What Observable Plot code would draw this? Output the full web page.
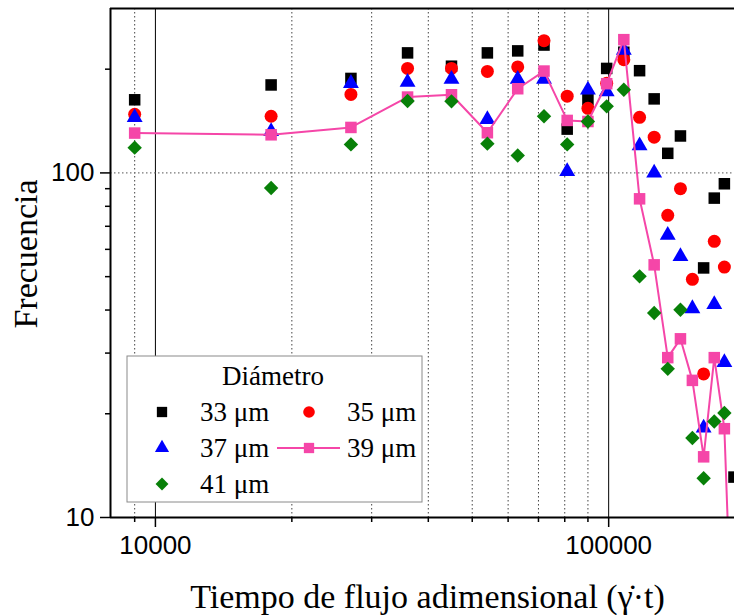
<!DOCTYPE html>
<html>
<head>
<meta charset="utf-8">
<script src="https://cdn.jsdelivr.net/npm/d3@7"></script>
<script src="https://cdn.jsdelivr.net/npm/@observablehq/plot@0.6"></script>
<style>
  html, body { margin: 0; padding: 0; background: white; }
  #chart svg { display: block; }
</style>
</head>
<body>
<div id="chart"></div>
<script>
// Dimensionless flow time (γ̇·t)
const times = [9000, 18000, 27000, 36000, 45000, 54000, 63000, 72000, 81000, 90000, 99000,
               108000, 117000, 126000, 135000, 144000, 153000, 162000, 171000, 180000, 189000];
// Frequency per particle diameter
const d33 = [163, 180, 188, 223, 204, 223, 226, 235, 134, 163, 201, 224, 198, 164, 114, 128, null, 53, 84.5, 93, 13.1];
const d35 = [148, 146, 169, 201, 201, 197, 203, 242, 167, 154, 182, 213, 145, 127, 75.3, 90, 49.1, 26.1, 63.3, 53.3, null];
const d37 = [145, 132, 182, 183.5, 187, 143, 187, 187, 101, 174, 172, 227, 120, 100, 66, 57.2, 40.4, 18.2, 41.5, 28.2, null];
const d39 = [130.5, 129, 135.5, 166, 168.6, 130.8, 175.5, 197.5, 142, 141, 181.5, 243.6, 84.1, 54.1, 29.1, 33, 25, 15, 29.1, 18.1, 3];
const d41 = [118.4, 90.4, 121, 161.6, 161.3, 121.6, 112.4, 146, 121, 141, 156, 174.4, 50.1, 39.2, 27, 40.1, 17, 13, 19, 20.1, null];

const seriesNames = ["33 μm", "35 μm", "37 μm", "39 μm", "41 μm"];
const seriesValues = [d33, d35, d37, d39, d41];
const seriesSymbols = ["square", "circle", "triangle", "square", "diamond2"];
const seriesColors = ["#000000", "#ff0000", "#0000ff", "#f546a8", "#088008"];
const seriesR = [6.5, 6.5, 5.9, 6.5, 6.5];

const xMajor = [10000, 100000];
const xMinor = [9000, 20000, 30000, 40000, 50000, 60000, 70000, 80000, 90000];
const yMajor = [10, 100];
const yMinor = [20, 30, 40, 50, 60, 70, 80, 90, 200];

const xTitle = "Tiempo de flujo adimensional (\u03B3\u0307\u00B7t)";
const yTitle = "Frecuencia";
const legendTitle = "Diámetro";

function rowsFor(i) {
  return times.map((t, j) => ({t, v: seriesValues[i][j], s: seriesNames[i]}))
              .filter(d => d.v != null);
}

const serif = "Liberation Serif, Times New Roman, serif";
const sans = "Liberation Sans, Arial, sans-serif";

const dotMarks = seriesNames.map((n, i) => Plot.dot(rowsFor(i), {
  x: "t", y: "v", symbol: () => seriesSymbols[i], r: seriesR[i],
  fill: seriesColors[i], stroke: "none", clip: true
}));

const plot = Plot.plot({
  width: 734,
  height: 615,
  marginLeft: 110,
  marginRight: 0,
  marginTop: 8,
  marginBottom: 98,
  style: {background: "white", overflow: "visible"},
  x: {type: "log", domain: [7960, 189500]},
  y: {type: "log", domain: [10, 300]},
  symbol: {type: "identity"},
  marks: [
    Plot.ruleX(xMinor, {stroke: "#444", strokeWidth: 1, strokeDasharray: "1.5,2.5"}),
    Plot.ruleX(xMajor, {stroke: "#000", strokeWidth: 1}),
    Plot.ruleY([100], {stroke: "#777", strokeWidth: 1.2, strokeDasharray: "1.5,2.5"}),
    ...dotMarks.slice(0, 3),
    Plot.line(rowsFor(3), {x: "t", y: "v", stroke: seriesColors[3], strokeWidth: 2, clip: true}),
    dotMarks[3],
    dotMarks[4],
    Plot.axisX(xMajor, {tickSize: 10, tickPadding: 8, tickFormat: d3.format("d"), fontSize: 26,
      fontFamily: sans, label: null, strokeWidth: 1.5, fill: "#000"}),
    Plot.axisX(xMinor, {tickSize: 5, tickFormat: () => "", label: null, strokeWidth: 1.5}),
    Plot.axisY(yMajor, {tickSize: 10, tickPadding: 6, tickFormat: d3.format("d"), fontSize: 26,
      fontFamily: sans, label: null, strokeWidth: 1.5, fill: "#000"}),
    Plot.axisY(yMinor, {tickSize: 5, tickFormat: () => "", label: null, strokeWidth: 1.5}),
    Plot.ruleY([300], {stroke: "#000", strokeWidth: 2}),
    Plot.ruleY([10], {stroke: "#000", strokeWidth: 2}),
    Plot.ruleX([7960], {stroke: "#000", strokeWidth: 2}),
    Plot.text([xTitle], {frameAnchor: "bottom", dx: 5, dy: 80, fontSize: 34, fontFamily: serif,
      fill: "#000", lineAnchor: "middle"})
  ]
});

document.getElementById("chart").appendChild(plot);

const svg = d3.select(plot);

// Y axis title
svg.append("text")
  .attr("transform", "translate(37,254) rotate(-90)")
  .attr("text-anchor", "middle")
  .attr("font-family", serif).attr("font-size", 34).attr("fill", "#000")
  .text(yTitle);

// Legend inside the plot area
const lg = svg.append("g").attr("class", "legend").attr("text-anchor", "start");
lg.append("rect").attr("x", 127).attr("y", 356).attr("width", 295).attr("height", 146)
  .attr("fill", "white").attr("stroke", "#8a8a8a").attr("stroke-width", 1);
lg.append("text").attr("x", 273).attr("y", 385).attr("text-anchor", "middle")
  .attr("font-family", serif).attr("font-size", 27).attr("fill", "#000").text(legendTitle);

const symMap = {square: d3.symbolSquare, circle: d3.symbolCircle, triangle: d3.symbolTriangle, diamond2: d3.symbolDiamond2};
const slots = [[0, 0], [1, 0], [0, 1], [1, 1], [0, 2]];
const colSym = [162, 309], colText = [200, 347], rowY = [412, 448, 484];
seriesNames.forEach((n, i) => {
  const [c, r] = slots[i];
  const cx = colSym[c], cy = rowY[r];
  if (i === 3) {
    lg.append("line").attr("x1", 277).attr("x2", 340).attr("y1", cy).attr("y2", cy)
      .attr("stroke", seriesColors[i]).attr("stroke-width", 2);
  }
  lg.append("path")
    .attr("d", d3.symbol(symMap[seriesSymbols[i]], Math.PI * seriesR[i] * seriesR[i] * 0.8)())
    .attr("transform", `translate(${cx},${cy})`)
    .attr("fill", seriesColors[i]);
  lg.append("text").attr("x", colText[c]).attr("y", cy + 9).attr("text-anchor", "start")
    .attr("font-family", serif).attr("font-size", 27).attr("fill", "#000").text(n);
});
</script>
</body>
</html>
